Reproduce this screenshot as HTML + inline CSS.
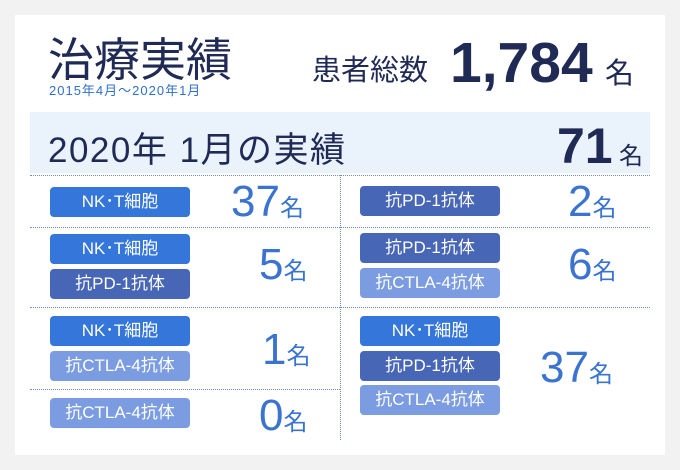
<!DOCTYPE html><html><head><meta charset="utf-8"><style>
body{margin:0;width:680px;height:470px;background:#f2f2f2;font-family:"Liberation Sans","Noto Sans CJK JP",sans-serif;position:relative;overflow:hidden}
.a{position:absolute;white-space:nowrap}
.card{position:absolute;left:15px;top:15px;width:650px;height:440px;background:#fff}
.b{position:absolute;width:140px;height:30px;border-radius:4px;color:#fff;font-size:17px;line-height:30px;text-align:center}
.nk{background:#3476da}.pd{background:#4866b6}.ct{background:#7b9ce0}
.n{position:absolute;color:#3a74d0;font-size:44px;line-height:44px}
.n span{font-size:24px}
.h{position:absolute;height:0;border-top:1px dotted #6a8fc6}
</style></head><body>
<div class="card"></div>
<div class="a" style="left:48px;top:24px;font-size:46px;color:#1f2a55">治療実績</div>
<div class="a" style="left:49px;top:80px;font-size:13px;color:#2f6fd0;letter-spacing:1px">2015年4月～2020年1月</div>
<div class="a" style="left:312px;top:47px;font-size:29px;color:#1f2a55">患者総数</div>
<div class="a" style="left:450px;top:30px;font-size:57px;font-weight:bold;color:#1f2a55;letter-spacing:0px">1,784</div>
<div class="a" style="left:605px;top:50px;font-size:29px;color:#1f2a55">名</div>
<div class="a" style="left:30px;top:112px;width:620px;height:61px;background:#eaf2fc"></div>
<div class="a" style="left:48px;top:122px;font-size:35px;color:#1f2a55;letter-spacing:1.5px">2020年 1月の実績</div>
<div class="a" style="left:557px;top:117px;font-size:50px;font-weight:bold;color:#1f2a55">71</div>
<div class="a" style="left:619px;top:136px;font-size:24px;color:#1f2a55">名</div>
<div class="h" style="left:30px;top:175px;width:620px"></div>
<div class="h" style="left:30px;top:227px;width:620px"></div>
<div class="h" style="left:30px;top:307px;width:620px"></div>
<div class="h" style="left:30px;top:389px;width:310px"></div>
<div class="a" style="left:340px;top:175px;height:265px;border-left:1px dotted #6a8fc6"></div>
<div class="b nk" style="left:50px;top:187px">NK･T細胞</div>
<div class="n" style="left:231px;top:180px">37<span>名</span></div>
<div class="b pd" style="left:360px;top:186px">抗PD-1抗体</div>
<div class="n" style="left:568px;top:180px">2<span>名</span></div>
<div class="b nk" style="left:50px;top:234px">NK･T細胞</div>
<div class="b pd" style="left:50px;top:269px">抗PD-1抗体</div>
<div class="n" style="left:259px;top:243px">5<span>名</span></div>
<div class="b pd" style="left:360px;top:233px">抗PD-1抗体</div>
<div class="b ct" style="left:360px;top:268px">抗CTLA-4抗体</div>
<div class="n" style="left:568px;top:243px">6<span>名</span></div>
<div class="b nk" style="left:50px;top:316px">NK･T細胞</div>
<div class="b ct" style="left:50px;top:351px">抗CTLA-4抗体</div>
<div class="n" style="left:262px;top:328px">1<span>名</span></div>
<div class="b ct" style="left:50px;top:398px">抗CTLA-4抗体</div>
<div class="n" style="left:259px;top:394px">0<span>名</span></div>
<div class="b nk" style="left:360px;top:316px">NK･T細胞</div>
<div class="b pd" style="left:360px;top:351px">抗PD-1抗体</div>
<div class="b ct" style="left:360px;top:385px">抗CTLA-4抗体</div>
<div class="n" style="left:540px;top:346px">37<span>名</span></div>
</body></html>
